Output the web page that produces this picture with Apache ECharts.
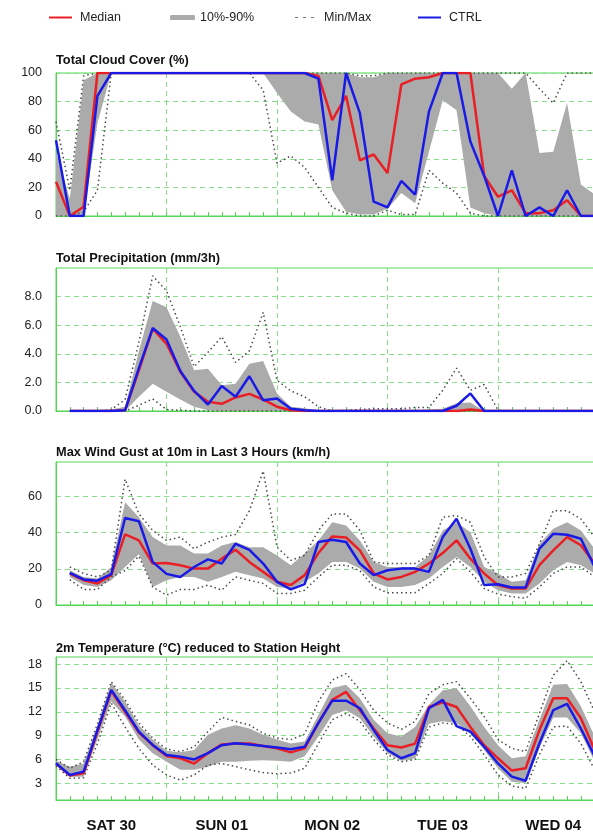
<!DOCTYPE html>
<html>
<head>
<meta charset="utf-8">
<script src="https://cdn.jsdelivr.net/npm/echarts@6/dist/echarts.min.js"></script>
<style>
  html, body { margin: 0; padding: 0; background: #fff; }
  #main { width: 593px; height: 832px; }
</style>
</head>
<body>
<div id="main"></div>
<script>
// 3-hourly forecast steps (hours from run start)
var hours = [0, 3, 6, 9, 12, 15, 18, 21, 24, 27, 30, 33, 36, 39, 42, 45, 48, 51, 54, 57, 60,
  63, 66, 69, 72, 75, 78, 81, 84, 87, 90, 93, 96, 99, 102, 105, 108, 111, 114, 117, 120];
var dayLabels = { 12: "SAT 30", 36: "SUN 01", 60: "MON 02", 84: "TUE 03", 108: "WED 04" };

// y tick labels per panel
var cloudTicks = [0, 20, 40, 60, 80, 100];
var precipTicks = [0, 2, 4, 6, 8];
var windTicks = [0, 20, 40, 60];
var tempTicks = [3, 6, 9, 12, 15, 18];

// total cloud cover (%)
var cloudMedian = [24, 0, 6.5, 100, 100, 100, 100, 100, 100, 100, 100, 100, 100, 100, 100, 100, 100, 100, 100, 98,
  67, 84, 39, 43, 30, 92, 96, 97, 100, 100, 100, 28, 13.5, 18, 2, 2, 4, 11, 0, 0, 0];
var cloudCtrl = [53, 0, 0, 84, 100, 100, 100, 100, 100, 100, 100, 100, 100, 100, 100, 100, 100, 100, 100, 96,
  25, 100, 72, 10, 6, 24.5, 15, 73, 100, 100, 52, 28, 0, 32, 0, 6, 0, 18, 0, 0, 0];
var cloudP90 = [45, 12, 95, 100, 100, 100, 100, 100, 100, 100, 100, 100, 100, 100, 100, 100, 100, 100, 100, 100,
  100, 100, 97, 97, 100, 100, 100, 100, 100, 100, 100, 100, 100, 89, 100, 44, 45, 79, 22, 15, 12];
var cloudP10 = [0, 0, 0, 65, 100, 100, 100, 100, 100, 100, 100, 100, 100, 100, 100, 100, 86, 73, 66, 64,
  18, 3, 1, 1, 5, 16, 9, 45, 81, 74, 6, 2, 0, 0, 0, 0, 0, 0, 0, 0, 0];
var cloudMax = [66, 18, 98, 100, 100, 100, 100, 100, 100, 100, 100, 100, 100, 100, 100, 100, 100, 100, 100, 100,
  100, 100, 98, 98, 100, 100, 100, 100, 100, 100, 100, 100, 100, 100, 100, 89, 79, 100, 100, 100, 100];
var cloudMin = [0, 0, 3, 18, 100, 100, 100, 100, 100, 100, 100, 100, 100, 100, 100, 88, 37, 42, 34, 20,
  6, 2, 0, 0, 4, 1, 1, 32, 23, 16, 2, 0, 0, 0, 0, 0, 0, 0, 0, 0, 0];

// total precipitation (mm/3h)
var precipMedian = [null, 0, 0, 0, 0, 0.05, 2.85, 5.75, 4.7, 2.75, 1.35, 0.65, 0.5, 0.95, 1.2, 0.8, 0.3, 0.05, 0, 0,
  0, 0, 0, 0, 0, 0, 0, 0, 0, 0, 0.1, 0, 0, 0, 0, 0, 0, 0, 0, 0, 0];
var precipCtrl = [null, 0, 0, 0, 0, 0.05, 3.0, 5.8, 5.0, 2.8, 1.4, 0.45, 1.75, 1.0, 2.43, 0.75, 0.88, 0.15, 0.05, 0,
  0, 0, 0, 0, 0, 0, 0, 0, 0, 0.37, 1.23, 0, 0, 0, 0, 0, 0, 0, 0, 0, 0];
var precipP90 = [null, 0, 0, 0, 0.1, 0.3, 4.2, 7.7, 7.25, 5.2, 2.85, 2.95, 1.8, 1.9, 3.3, 3.5, 1.23, 0.3, 0.2, 0.05,
  0, 0, 0.02, 0.05, 0.05, 0.05, 0.05, 0.1, 0.15, 0.55, 0.6, 0, 0, 0, 0, 0, 0, 0, 0, 0, 0];
var precipP10 = [null, 0, 0, 0, 0, 0, 1.0, 1.9, 1.35, 0.8, 0.3, 0.05, 0, 0, 0, 0, 0, 0, 0, 0,
  0, 0, 0, 0, 0, 0, 0, 0, 0, 0, 0, 0, 0, 0, 0, 0, 0, 0, 0, 0, 0];
var precipMax = [null, 0, 0, 0, 0.1, 0.8, 4.8, 9.45, 8.4, 5.9, 3.1, 4.1, 5.2, 3.4, 4.2, 6.9, 2.15, 1.4, 1.0, 0.3,
  0, 0.05, 0.1, 0.15, 0.15, 0.15, 0.25, 0.25, 1.45, 3.0, 1.45, 1.85, 0.05, 0, 0, 0, 0, 0, 0, 0, 0];
var precipMin = [null, 0, 0, 0, 0, 0, 0.4, 0.85, 0.1, 0.05, 0, 0, 0, 0, 0, 0, 0, 0, 0, 0,
  0, 0, 0, 0, 0, 0, 0, 0, 0, 0, 0, 0, 0, 0, 0, 0, 0, 0, 0, 0, 0];

// max wind gust (km/h)
var windMedian = [null, 17.4, 13.7, 11.9, 16.5, 39, 35.7, 22.9, 23.2, 22, 20.1, 20.1, 25.6, 30.5, 23.8, 18.3, 12.8, 11, 16.5, 28.7,
  37.9, 37.3, 30.2, 17.4, 14.1, 15.5, 18.3, 22.9, 28.7, 35.7, 25.6, 17.4, 11, 9.1, 9.1, 22, 30.2, 37.5, 33, 22.9, 18];
var windCtrl = [null, 17.7, 14.1, 13.4, 17, 48.1, 46.3, 23.8, 17.2, 15.5, 21, 25.2, 22.9, 33.8, 30.5, 22.9, 12.8, 8.6, 11.5, 34.8,
  36, 34.8, 22.9, 16.5, 19.2, 20.1, 20.1, 18.3, 37.5, 47.6, 31.1, 11, 11.5, 9.7, 9.7, 31.1, 39.3, 38.8, 36.6, 21, 15];
var windP90 = [null, 19.2, 15.5, 14.6, 21, 56.7, 48.5, 37.5, 32.9, 32.9, 28.4, 28.4, 32.9, 34.8, 31.9, 31.9, 27.4, 22, 28.4, 35.7,
  45.7, 43.9, 35.7, 23.8, 21, 21, 21, 27.4, 41.2, 45.7, 40.2, 21, 17.4, 12.8, 13.7, 33.8, 42.1, 45.7, 41.2, 31, 26];
var windP10 = [null, 15.5, 11, 10, 13.7, 21, 28, 10, 13.7, 15.5, 15.5, 12.8, 15.5, 18.3, 16.5, 14.6, 10, 9, 12.8, 17.4,
  23.8, 23.8, 20.1, 12.8, 10, 10, 11, 14.6, 21, 26.5, 21, 12.8, 8.2, 6.4, 6.4, 11.9, 19.2, 23.8, 22, 17.4, 14];
var windMax = [null, 21, 17.4, 15.5, 19.2, 69.5, 50.3, 41.2, 35.7, 37.5, 31.1, 34.7, 37.5, 39, 52, 74, 32, 24.7, 27.4, 41.2,
  50.3, 50.3, 41.2, 23.8, 22.9, 22.9, 22.9, 27.4, 48.5, 49.4, 45.7, 26.5, 15.5, 15.5, 17.4, 33.8, 52.1, 52.1, 47.6, 37.5, 30];
var windMin = [null, 14, 8.6, 8.6, 15.5, 19, 27, 10, 5.5, 8.6, 8.6, 11, 8.2, 15.5, 13.7, 11.9, 6.4, 6.4, 8.2, 15.5,
  22, 22, 19, 10, 6.8, 6.8, 6.8, 11.9, 17.4, 25.6, 18.3, 9.1, 6, 4.6, 3.7, 10, 17.4, 21, 21, 15.5, 12];

// 2m temperature (°C)
var tempMedian = [5.5, 3.97, 4.26, 9.5, 14.6, 12.0, 9.4, 7.8, 6.45, 6.15, 5.5, 6.8, 7.9, 8.0, 8.0, 7.7, 7.4, 6.9, 7.4, 10.6,
  13.5, 14.5, 12.2, 9.9, 7.8, 7.5, 8.0, 12.6, 13.2, 12.6, 10.1, 7.8, 6.15, 4.6, 4.9, 9.7, 13.7, 13.7, 11.2, 7.2, 5];
var tempCtrl = [5.52, 4.05, 4.47, 9.7, 14.76, 12.2, 9.5, 7.83, 6.57, 6.36, 6.0, 6.8, 7.8, 8.04, 7.9, 7.7, 7.5, 7.3, 7.6, 10.6,
  13.4, 13.4, 12.45, 9.7, 7.2, 6.15, 6.8, 12.45, 13.5, 10.2, 9.5, 7.6, 5.5, 3.84, 3.33, 8.04, 12.2, 13.0, 9.9, 6.4, 5];
var tempP90 = [5.85, 5.1, 5.5, 10.3, 15.7, 13.3, 10.3, 8.5, 7.1, 6.9, 7.2, 9.1, 9.9, 10.3, 9.9, 9.1, 8.5, 8.0, 8.25, 11.6,
  15.0, 15.4, 13.7, 11.0, 9.3, 8.9, 10.1, 12.9, 14.7, 15.0, 12.7, 10.1, 7.8, 6.15, 6.4, 11.0, 15.4, 15.5, 12.7, 8.9, 7];
var tempP10 = [5.3, 3.84, 3.84, 8.5, 13.3, 11.4, 8.5, 6.8, 5.7, 4.7, 4.7, 5.1, 5.7, 5.7, 5.85, 5.9, 5.85, 5.7, 6.4, 8.9,
  11.6, 12.2, 11.2, 8.9, 6.8, 5.85, 6.15, 10.5, 10.8, 10.6, 9.3, 7.2, 4.9, 3.2, 3.0, 7.4, 11.3, 11.3, 9.3, 5.7, 4];
var tempMax = [6.0, 4.9, 5.7, 10.5, 15.8, 13.5, 10.6, 8.7, 7.3, 7.0, 7.6, 9.5, 11.3, 10.8, 10.35, 9.3, 8.7, 8.5, 9.2, 13.3,
  16.0, 16.8, 14.8, 12.2, 10.6, 9.8, 10.8, 14.3, 15.4, 15.8, 13.7, 11.4, 8.5, 7.4, 7.0, 11.8, 16.6, 18.45, 15.8, 12.0, 9];
var tempMin = [5.2, 3.63, 3.7, 8, 13.1, 10.1, 7.4, 5.3, 4.05, 3.4, 4.05, 5.3, 5.5, 5.1, 4.7, 4.35, 4.2, 4.3, 4.9, 8.0,
  11.0, 11.8, 10.8, 8.5, 6.6, 5.7, 6.0, 10.1, 10.6, 10.4, 8.9, 6.6, 4.05, 2.66, 2.37, 6.6, 10.1, 10.2, 8.0, 4.7, 3];

var FONT = "'Liberation Sans', Arial, sans-serif";
var GREEN = "#55d455";
var GRID_GREEN = "#8ae08a";
var RED = "#ea1f25";
var BLUE = "#1a1ae6";
var BAND = "#ababab";
var DOTS = "#4a4a4a";

var panels = [
  { title: "Total Cloud Cover (%)", titleTop: 54, top: 73, min: 0, max: 100, ticks: cloudTicks,
    fmt: function (v) { return String(v); },
    median: cloudMedian, ctrl: cloudCtrl, p10: cloudP10, p90: cloudP90, lo: cloudMin, hi: cloudMax },
  { title: "Total Precipitation (mm/3h)", titleTop: 252, top: 268, min: 0, max: 10, ticks: precipTicks,
    fmt: function (v) { return Number(v).toFixed(1); },
    median: precipMedian, ctrl: precipCtrl, p10: precipP10, p90: precipP90, lo: precipMin, hi: precipMax },
  { title: "Max Wind Gust at 10m in Last 3 Hours (km/h)", titleTop: 446, top: 462, min: 0, max: 79, ticks: windTicks,
    fmt: function (v) { return String(v); },
    median: windMedian, ctrl: windCtrl, p10: windP10, p90: windP90, lo: windMin, hi: windMax },
  { title: "2m Temperature (°C) reduced to Station Height", titleTop: 642, top: 657, min: 0.9, max: 18.9, ticks: tempTicks,
    fmt: function (v) { return String(v); },
    median: tempMedian, ctrl: tempCtrl, p10: tempP10, p90: tempP90, lo: tempMin, hi: tempMax }
];

var titles = [], grids = [], xAxes = [], yAxes = [], series = [];

panels.forEach(function (p, k) {
  var last = k === panels.length - 1;
  titles.push({
    text: p.title, left: 56, top: p.titleTop, padding: 0,
    textStyle: { fontFamily: FONT, fontSize: 12.8, fontWeight: "bold", color: "#111" }
  });
  grids.push({
    left: 56, width: 552.5, top: p.top, height: 143,
    show: true, borderColor: GREEN, borderWidth: 1, outerBoundsMode: "none"
  });
  xAxes.push({
    gridIndex: k, type: "category", boundaryGap: false, data: hours,
    axisLine: { show: true, lineStyle: { color: GREEN, width: 1 } },
    axisTick: { show: true, inside: true, length: 4, interval: 0, lineStyle: { color: GREEN } },
    splitLine: {
      show: true,
      interval: function (i) { return i % 8 === 0; },
      lineStyle: { color: GRID_GREEN, type: [5, 4], width: 1 }
    },
    axisLabel: last ? {
      show: true, margin: 18,
      interval: function (i, v) { return dayLabels[v] !== undefined; },
      formatter: function (v) { return dayLabels[v] || ""; },
      fontFamily: FONT, fontSize: 15, fontWeight: "bold", color: "#111"
    } : { show: false }
  });
  yAxes.push({
    gridIndex: k, type: "value", min: p.min, max: p.max,
    axisLine: { show: true, lineStyle: { color: GREEN, width: 1 } },
    axisTick: { show: false, customValues: p.ticks },
    splitLine: { show: true, lineStyle: { color: GRID_GREEN, type: [5, 4], width: 1 } },
    axisLabel: {
      customValues: p.ticks, formatter: p.fmt, margin: 14,
      fontFamily: FONT, fontSize: 12.5, color: "#222"
    }
  });

  var spread = p.p90.map(function (v, i) { return v == null ? null : v - p.p10[i]; });
  var common = { type: "line", xAxisIndex: k, yAxisIndex: k, symbol: "none", silent: true };
  series.push(Object.assign({}, common, {
    name: "p10", data: p.p10, stack: "band" + k, lineStyle: { width: 0, opacity: 0 }
  }));
  series.push(Object.assign({}, common, {
    name: "10%-90%", data: spread, stack: "band" + k,
    lineStyle: { width: 0, opacity: 0 }, itemStyle: { color: BAND },
    areaStyle: { color: BAND, opacity: 1 }
  }));
  series.push(Object.assign({}, common, {
    name: "Min/Max", data: p.hi, itemStyle: { color: DOTS },
    lineStyle: { color: DOTS, width: 1.5, type: [1.5, 3] }
  }));
  series.push(Object.assign({}, common, {
    name: "Min/Max", data: p.lo, itemStyle: { color: DOTS },
    lineStyle: { color: DOTS, width: 1.5, type: [1.5, 3] }
  }));
  series.push(Object.assign({}, common, {
    name: "Median", data: p.median, itemStyle: { color: RED },
    lineStyle: { color: RED, width: 2.5 }
  }));
  series.push(Object.assign({}, common, {
    name: "CTRL", data: p.ctrl, itemStyle: { color: BLUE },
    lineStyle: { color: BLUE, width: 2.5 }
  }));
});

function legendItem(left, name, icon, color, w, h, gap) {
  return {
    left: left, top: 11, padding: 0, selectedMode: false,
    itemWidth: w, itemHeight: h,
    textStyle: { fontFamily: FONT, fontSize: 12.5, color: "#222", padding: [0, 0, 0, gap] },
    data: [{ name: name, icon: icon, itemStyle: { color: color, borderWidth: 0 } }]
  };
}

var chart = echarts.init(document.getElementById("main"));
chart.setOption({
  animation: false,
  backgroundColor: "#fff",
  title: titles,
  legend: [
    legendItem(49, "Median", "rect", RED, 23, 2, 3),
    legendItem(170, "10%-90%", "roundRect", BAND, 25, 5, 0),
    legendItem(295, "Min/Max", "path://M0,0H3V1H0Z M8,0H11V1H8Z M16,0H19V1H16Z", "#777", 19, 1.5, 5),
    legendItem(418, "CTRL", "rect", BLUE, 23, 2, 3)
  ],
  grid: grids,
  xAxis: xAxes,
  yAxis: yAxes,
  series: series
});
</script>
</body>
</html>
